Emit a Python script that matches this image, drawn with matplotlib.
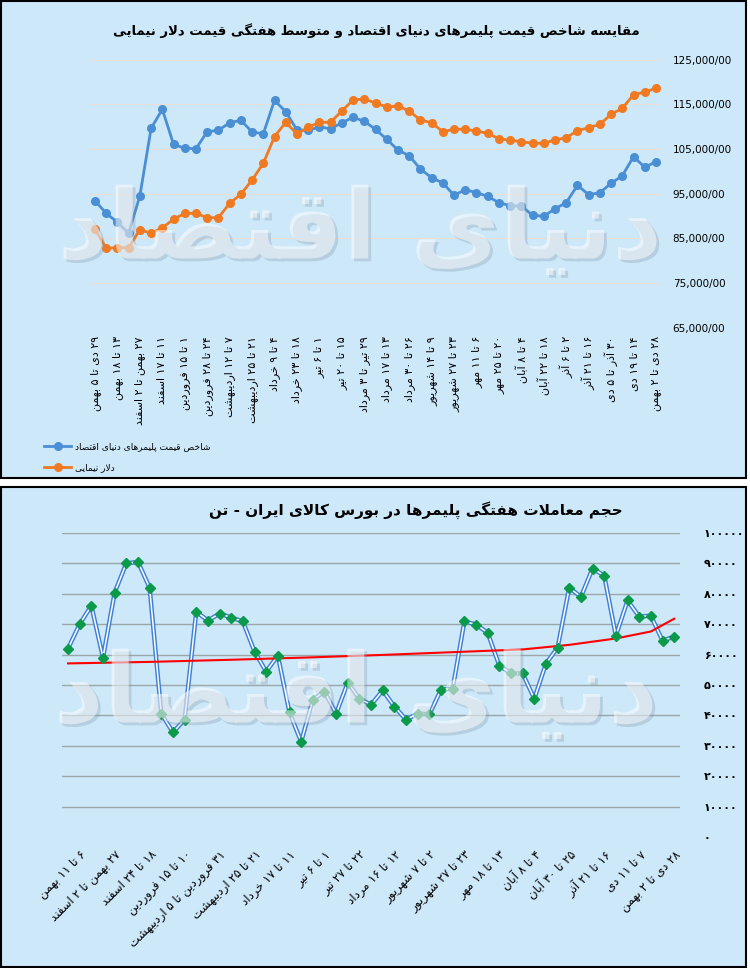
import re
import matplotlib
matplotlib.use('Agg')
import matplotlib.pyplot as plt
import matplotlib.patheffects as pe
from matplotlib.patches import Rectangle

# --- data ---
top_labels = ['۲۹ دی تا ۵ بهمن', '۱۳ تا ۱۸ بهمن', '۲۷ بهمن تا ۲ اسفند', '۱۱ تا ۱۷ اسفند',
              '۱ تا ۱۵ فروردین', '۲۴ تا ۲۸ فروردین', '۷ تا ۱۲ اردیبهشت', '۲۱ تا ۲۵ اردیبهشت',
              '۴ تا ۹ خرداد', '۱۸ تا ۲۳ خرداد', '۱ تا ۶ تیر', '۱۵ تا ۲۰ تیر', '۲۹ تیر تا ۳ مرداد',
              '۱۳ تا ۱۷ مرداد', '۲۶ تا ۳۰ مرداد', '۹ تا ۱۴ شهریور', '۲۳ تا ۲۷ شهریور',
              '۶ تا ۱۱ مهر', '۲۰ تا ۲۵ مهر', '۴ تا ۸ آبان', '۱۸ تا ۲۲ آبان', '۲ تا ۶ آذر',
              '۱۶ تا ۲۱ آذر', '۳۰ آذر تا ۵ دی', '۱۴ تا ۱۹ دی', '۲۸ دی تا ۲ بهمن']

polymer_index = [93430, 90600, 88600, 86140, 94550, 109630, 113880, 106050, 105150, 105070,
                 108870, 109180, 110880, 111420, 108800, 108420, 115890, 113340, 109250, 109180,
                 109920, 109540, 110880, 112090, 111200, 109400, 107170, 104780, 103500, 100530,
                 98580, 97400, 94640, 95900, 95220, 94420, 92990, 92320, 92250, 90170,
                 89940, 91640, 92990, 96880, 94780, 95220, 97330, 99030, 103280, 100910, 102160]

nima_dollar = [87040, 82790, 82920, 82920, 86950, 86140, 87390, 89270, 90610, 90610,
               89630, 89630, 92850, 94870, 98070, 101800, 107750, 110970, 108360, 109850,
               110970, 111000, 113500, 115960, 116190, 115300, 114400, 114620, 113500, 111490,
               110880, 108870, 109410, 109410, 109030, 108510, 107300, 106950, 106640, 106280,
               106280, 107010, 107530, 109090, 109770, 110520, 112760, 114100, 117150, 117750, 118580]

bottom_labels = ['۶ تا ۱۱ بهمن', '۲۷ بهمن تا ۲ اسفند', '۱۸ تا ۲۴ اسفند', '۱۰ تا ۱۵ فروردین',
                 '۳۱ فروردین تا ۵ اردیبهشت', '۲۱ تا ۲۵ اردیبهشت', '۱۱ تا ۱۷ خرداد', '۱ تا ۶ تیر',
                 '۲۲ تا ۲۷ تیر', '۱۲ تا ۱۶ مرداد', '۲ تا ۷ شهریور', '۲۳ تا ۲۷ شهریور',
                 '۱۳ تا ۱۸ مهر', '۴ تا ۸ آبان', '۲۵ تا ۳۰ آبان', '۱۶ تا ۲۱ آذر', '۷ تا ۱۱ دی',
                 '۲۸ دی تا ۲ بهمن']

volume = [62000, 70000, 76100, 59000, 80400, 90000, 90500, 82000, 40600, 34400,
          38600, 74100, 71200, 73500, 72200, 70900, 61000, 54400, 59700, 41000,
          31300, 45200, 47800, 40600, 50800, 45500, 43500, 48200, 42900, 38600,
          40600, 40300, 48500, 48800, 70900, 69900, 67200, 56400, 53800, 53800,
          45500, 57000, 62300, 82000, 79000, 88300, 86000, 66200, 77800, 72500,
          72800, 64600, 65900]

# red trend line at a few weeks
trend_idx = [0, 7, 14, 21, 27, 33, 39, 43, 47, 50, 52]
trend_val = [57100, 57600, 58300, 59100, 59900, 60800, 61700, 63200, 65300, 67600, 71800]

top_yticks = [65000, 75000, 85000, 95000, 105000, 115000, 125000]
bottom_yticks = [0, 10000, 20000, 30000, 40000, 50000, 60000, 70000, 80000, 90000, 100000]

# --- minimal Persian shaping (matplotlib has no RTL/joining support) ---
DUAL = {'ب': 0xFE8F, 'ت': 0xFE95, 'ث': 0xFE99, 'ج': 0xFE9D, 'ح': 0xFEA1, 'خ': 0xFEA5,
        'س': 0xFEB1, 'ش': 0xFEB5, 'ص': 0xFEB9, 'ض': 0xFEBD, 'ط': 0xFEC1, 'ظ': 0xFEC5,
        'ع': 0xFEC9, 'غ': 0xFECD, 'ف': 0xFED1, 'ق': 0xFED5, 'ل': 0xFEDD, 'م': 0xFEE1,
        'ن': 0xFEE5, 'ه': 0xFEE9, 'ئ': 0xFE89, 'پ': 0xFB56, 'چ': 0xFB7A, 'ک': 0xFB8E,
        'گ': 0xFB92, 'ی': 0xFBFC}
RIGHT = {'ا': 0xFE8D, 'آ': 0xFE81, 'د': 0xFEA9, 'ذ': 0xFEAB, 'ر': 0xFEAD, 'ز': 0xFEAF,
         'ژ': 0xFB8A, 'و': 0xFEED}
DIGITS = '0123456789۰۱۲۳۴۵۶۷۸۹,./'


def shape(s):
    out = []
    i = 0
    while i < len(s):
        c = s[i]
        if c not in DUAL and c not in RIGHT:
            out.append(c)
            i += 1
            continue
        prev_joins = i > 0 and s[i - 1] in DUAL
        nxt = s[i + 1] if i + 1 < len(s) else ''
        if c == 'ل' and nxt in ('ا', 'آ'):
            base = 0xFEFB if nxt == 'ا' else 0xFEF5
            out.append(chr(base + (1 if prev_joins else 0)))
            i += 2
            continue
        next_joins = c in DUAL and (nxt in DUAL or nxt in RIGHT)
        base = DUAL.get(c, RIGHT.get(c))
        if prev_joins and next_joins:
            off = 3
        elif prev_joins:
            off = 1
        elif next_joins:
            off = 2
        else:
            off = 0
        out.append(chr(base + off))
        i += 1
    return ''.join(out)


def fa(s):
    runs = re.findall('[' + DIGITS + ']+|[^' + DIGITS + ']+', shape(s))
    return ''.join(r if r[0] in DIGITS else r[::-1] for r in reversed(runs))


plt.rcParams['font.family'] = ['DejaVu Sans']

W, H = 750, 968
BG = '#cde8f9'


def ax_rect(left, top, right, bottom):
    return [left / W, 1 - bottom / H, (right - left) / W, (bottom - top) / H]


fig = plt.figure(figsize=(7.5, 9.68), dpi=100, facecolor='white')

# panel backgrounds
for (x0, y0, x1, y1) in [(1, 1, 746, 478), (1, 487, 746, 967)]:
    fig.patches.append(Rectangle((x0 / W, 1 - y1 / H), (x1 - x0) / W, (y1 - y0) / H,
                                 transform=fig.transFigure, facecolor=BG,
                                 edgecolor='black', linewidth=1.5, zorder=-5))

# watermark (drawn over the data, as in the source image)
shadow = [pe.withSimplePatchShadow(offset=(2, -2), shadow_rgbFace='#7f95a8', alpha=0.3)]
for cx, cy in [(360, 232), (356, 696)]:
    fig.text(cx / W, 1 - cy / H, fa('دنیای اقتصاد'), ha='center', va='center',
             fontsize=70, fontweight='bold', color='white', alpha=0.5,
             path_effects=shadow, zorder=10)

# ---------------- top chart ----------------
ax1 = fig.add_axes(ax_rect(89.4, 59.6, 661.6, 327.8))
ax1.set_facecolor('none')
x_top = list(range(len(polymer_index)))
l1, = ax1.plot(x_top, polymer_index, color='#4a8fd4', lw=2, marker='o', ms=5.5, zorder=3)
l2, = ax1.plot(x_top, nima_dollar, color='#f07a22', lw=2, marker='o', ms=5.5, zorder=3)
ax1.set_xlim(-0.5, len(x_top) - 0.5)
ax1.set_ylim(65000, 125000)
ax1.set_yticks(top_yticks)
ax1.set_yticklabels(['{:,}/00'.format(v) for v in top_yticks], fontsize=7.5)
for v in top_yticks:
    ax1.axhline(v, color='#eadfd8', lw=0.8, zorder=1)
ax1.yaxis.tick_right()
ax1.tick_params(axis='y', length=0, pad=8)
ax1.set_xticks(x_top[::2])
ax1.set_xticklabels([fa(t) for t in top_labels], rotation=90, fontsize=8,
                    va='top', ha='center')
ax1.tick_params(axis='x', length=0, pad=6)
for s in ax1.spines.values():
    s.set_visible(False)

fig.text(376 / W, 1 - 31 / H, fa('مقایسه شاخص قیمت پلیمرهای دنیای اقتصاد و متوسط هفتگی قیمت دلار نیمایی'),
         ha='center', va='center', fontsize=9.5, fontweight='bold')

fig.legend(handles=[l1, l2],
           labels=[fa('شاخص قیمت پلیمرهای دنیای اقتصاد'), fa('دلار نیمایی')],
           loc='upper left', bbox_to_anchor=(36 / W, 1 - 434 / H),
           frameon=False, fontsize=6.5, handlelength=3.0, labelspacing=1.3, handletextpad=0.4)

# ---------------- bottom chart ----------------
ax2 = fig.add_axes(ax_rect(62.2, 533, 680, 837))
ax2.set_facecolor('none')
x_bot = list(range(len(volume)))
ax2.plot(x_bot, volume, color='#3f7fd6', lw=3.2, zorder=3)
ax2.plot(x_bot, volume, color='white', lw=1.1, zorder=3.1)
ax2.plot(x_bot, volume, linestyle='none', marker='D', ms=5.5, color='#0a9a4a', zorder=4)
ax2.plot(trend_idx, trend_val, color='#ff0000', lw=1.5, zorder=3.5)
ax2.set_xlim(-0.5, len(x_bot) - 0.5)
ax2.set_ylim(0, 100000)
for v in bottom_yticks[1:]:
    ax2.axhline(v, color='#9aa7a8', lw=1, zorder=1)
ax2.set_yticks(bottom_yticks)
ax2.set_yticklabels([str(v).translate(str.maketrans('0123456789', '۰۱۲۳۴۵۶۷۸۹'))
                     for v in bottom_yticks], fontsize=8, fontweight='bold')
ax2.yaxis.tick_right()
ax2.tick_params(axis='y', length=0, pad=17)
for t in ax2.get_yticklabels():
    t.set_ha('left')
ax2.set_xticks(x_bot[1::3])
ax2.set_xticklabels([fa(t) for t in bottom_labels], rotation=45, fontsize=8.5,
                    ha='right', va='top', rotation_mode='anchor')
ax2.tick_params(axis='x', length=0, pad=8)
for s in ax2.spines.values():
    s.set_visible(False)

fig.text(416 / W, 1 - 510 / H, fa('حجم معاملات هفتگی پلیمرها در بورس کالای ایران - تن'),
         ha='center', va='center', fontsize=11, fontweight='bold')

fig.savefig('out.png', dpi=100, facecolor='white')
